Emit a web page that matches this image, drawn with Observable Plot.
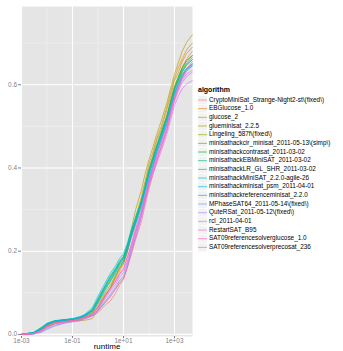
<!DOCTYPE html>
<html>
<head>
<meta charset="utf-8">
<script src="https://cdn.jsdelivr.net/npm/d3@7"></script>
<script src="https://cdn.jsdelivr.net/npm/@observablehq/plot@0.6"></script>
<style>
  html, body { margin: 0; padding: 0; background: #fff; }
  #wrap { position: relative; width: 343px; height: 351px; overflow: hidden; background: #fff; }
  #chart { position: absolute; left: 0; top: 0; }
  #legend { position: absolute; left: 190px; top: 0; }
</style>
</head>
<body>
<div id="wrap"><div id="chart"></div><div id="legend"></div></div>
<script>
const algorithms = [
  "CryptoMiniSat_Strange-Night2-st\\(fixed\\)",
  "EBGlucose_1.0",
  "glucose_2",
  "glueminisat_2.2.5",
  "Lingeling_587f\\(fixed\\)",
  "minisathackcir_minisat_2011-05-13\\(simp\\)",
  "minisathackcontrasat_2011-03-02",
  "minisathackEBMiniSAT_2011-03-02",
  "minisathackLR_GL_SHR_2011-03-02",
  "minisathackMiniSAT_2.2.0-agile-26",
  "minisathackminisat_psm_2011-04-01",
  "minisathackreferenceminisat_2.2.0",
  "MPhaseSAT64_2011-05-14\\(fixed\\)",
  "QuteRSat_2011-05-12\\(fixed\\)",
  "rcl_2011-04-01",
  "RestartSAT_B95",
  "SAT09referencesolverglucose_1.0",
  "SAT09referencesolverprecosat_236"
];

// runtime checkpoints (seconds)
const runtimes = [0.001, 0.003, 0.006, 0.01, 0.02, 0.05, 0.1, 0.2, 0.3, 0.6,
  1, 2, 3, 5, 7, 10, 14, 20, 30, 50,
  70, 100, 140, 200, 300, 500, 700, 1000, 1400, 2000,
  3000, 5000];

// fraction of instances solved at each checkpoint, one row per algorithm
const fractionSolved = [
  [0, .002, .010, .020, .028, .032, .034, .036, .040, .046, .052, .072, .080, .100, .118, .132, .160, .198, .232, .285, .318, .365, .398, .440, .470, .518, .548, .588, .612, .642, .662, .680],
  [0, .003, .012, .022, .030, .033, .035, .038, .042, .050, .068, .098, .110, .136, .152, .168, .196, .236, .270, .322, .352, .400, .428, .466, .492, .540, .570, .610, .628, .655, .675, .690],
  [0, .003, .011, .021, .029, .032, .034, .036, .040, .048, .064, .096, .112, .140, .158, .172, .200, .242, .282, .330, .368, .410, .436, .470, .500, .546, .580, .615, .640, .662, .684, .700],
  [0, .002, .009, .018, .026, .030, .032, .033, .034, .038, .058, .094, .110, .142, .160, .176, .210, .252, .300, .346, .385, .420, .448, .480, .512, .556, .590, .625, .652, .680, .702, .720],
  [0, .003, .012, .022, .030, .033, .035, .039, .043, .052, .072, .102, .118, .142, .158, .172, .198, .232, .268, .310, .350, .390, .418, .450, .482, .525, .558, .595, .618, .640, .658, .670],
  [0, .004, .014, .024, .031, .034, .036, .040, .045, .056, .080, .114, .132, .155, .170, .183, .208, .240, .272, .315, .350, .390, .420, .450, .480, .520, .555, .590, .612, .635, .652, .665],
  [0, .004, .015, .025, .032, .035, .037, .041, .046, .058, .083, .118, .136, .157, .172, .186, .212, .246, .280, .320, .360, .396, .424, .455, .486, .525, .560, .595, .618, .640, .658, .670],
  [0, .004, .014, .025, .032, .035, .037, .040, .045, .056, .078, .112, .128, .152, .168, .180, .206, .238, .270, .312, .348, .385, .414, .445, .476, .515, .550, .585, .608, .630, .648, .660],
  [0, .005, .016, .026, .033, .035, .037, .042, .047, .060, .086, .120, .140, .160, .176, .188, .212, .245, .278, .318, .352, .390, .420, .450, .480, .520, .552, .588, .610, .632, .648, .660],
  [0, .005, .017, .027, .033, .036, .038, .043, .048, .064, .092, .126, .146, .166, .182, .194, .218, .250, .282, .320, .352, .390, .418, .448, .478, .515, .546, .580, .602, .625, .640, .650],
  [0, .004, .015, .025, .032, .035, .037, .041, .046, .059, .084, .118, .138, .158, .174, .186, .210, .242, .272, .312, .346, .382, .410, .440, .472, .510, .542, .578, .600, .622, .638, .648],
  [0, .003, .013, .023, .031, .034, .036, .040, .044, .054, .076, .108, .126, .148, .164, .176, .200, .232, .264, .302, .338, .375, .404, .435, .468, .505, .538, .575, .598, .620, .636, .645],
  [0, .001, .006, .014, .022, .028, .031, .034, .038, .045, .058, .082, .096, .115, .130, .140, .168, .205, .245, .290, .330, .370, .400, .430, .462, .505, .540, .575, .600, .620, .638, .650],
  [0, .001, .005, .012, .020, .027, .030, .033, .037, .044, .056, .078, .092, .110, .124, .135, .160, .195, .236, .280, .320, .360, .390, .420, .452, .495, .530, .565, .590, .610, .626, .635],
  [0, .002, .008, .017, .025, .030, .033, .036, .040, .047, .062, .088, .104, .122, .138, .148, .174, .205, .244, .285, .320, .355, .384, .410, .440, .480, .515, .550, .572, .590, .602, .610],
  [0, .002, .009, .018, .026, .031, .033, .037, .041, .048, .064, .092, .108, .128, .144, .155, .182, .212, .250, .290, .328, .362, .392, .420, .450, .490, .525, .560, .585, .605, .620, .630],
  [0, .002, .010, .019, .027, .031, .033, .037, .041, .049, .066, .094, .110, .130, .146, .158, .185, .215, .255, .295, .332, .368, .398, .428, .460, .500, .535, .570, .595, .615, .632, .645],
  [0, .002, .009, .018, .026, .030, .032, .035, .039, .045, .057, .078, .090, .110, .124, .135, .160, .190, .228, .270, .310, .350, .382, .415, .448, .490, .528, .565, .590, .615, .638, .655]
];

const xMajorTicks = [0.001, 0.1, 10, 1000];
const xTickLabels = ["1e-03", "1e-01", "1e+01", "1e+03"];
const xMinorTicks = [0.01, 1, 100];
const yMajorTicks = [0, 0.2, 0.4, 0.6];
const yTickLabels = ["0.0", "0.2", "0.4", "0.6"];
const yMinorTicks = [0.1, 0.3, 0.5, 0.7];
const legendTitle = "algorithm";
const xTitle = "runtime";

// R's hcl() (polar LUV) -> hex, as used by ggplot2's default hue palette
function hclR(h, c, l) {
  const WX = 95.047, WY = 100.0, WZ = 108.883;
  const den = WX + 15 * WY + 3 * WZ;
  const un = 4 * WX / den, vn = 9 * WY / den;
  const hr = h * Math.PI / 180;
  const U = c * Math.cos(hr), V = c * Math.sin(hr);
  const Y = WY * (l > 7.999592 ? Math.pow((l + 16) / 116, 3) : l / 903.3);
  const u = U / (13 * l) + un, v = V / (13 * l) + vn;
  const X = 9 * Y * u / (4 * v);
  const Z = -X / 3 - 5 * Y + 3 * Y / v;
  const x = X / 100, y = Y / 100, z = Z / 100;
  const lin = [
    3.240479 * x - 1.537150 * y - 0.498535 * z,
    -0.969256 * x + 1.875992 * y + 0.041556 * z,
    0.055648 * x - 0.204043 * y + 1.057311 * z
  ];
  const g = t => t <= 0.0031308 ? 12.92 * t : 1.055 * Math.pow(t, 1 / 2.4) - 0.055;
  const rgb = lin.map(t => Math.round(255 * Math.max(0, Math.min(1, g(t)))));
  return d3.rgb(rgb[0], rgb[1], rgb[2]).formatHex();
}
const n = algorithms.length;
const colors = algorithms.map((_, i) => hclR(15 + 360 * i / n, 100, 65));

const data = algorithms.flatMap((a, i) =>
  runtimes.map((t, j) => ({algorithm: a, runtime: t, solved: fractionSolved[i][j]})));

const font = "'Liberation Sans', Arial, Helvetica, sans-serif";
const grey50 = "#7F7F7F";

const chart = Plot.plot({
  width: 194,
  height: 351,
  marginLeft: 21,
  marginRight: 2,
  marginTop: 6,
  marginBottom: 15,
  style: {fontFamily: font, fontSize: "6.4px", background: "transparent", overflow: "visible"},
  x: {type: "log", domain: [0.001, 5100]},
  y: {domain: [-0.005, 0.788]},
  color: {domain: algorithms, range: colors},
  marks: [
    Plot.frame({fill: "#E5E5E5", stroke: null}),
    Plot.ruleX(xMinorTicks, {stroke: "#F2F2F2", strokeWidth: 0.6}),
    Plot.ruleY(yMinorTicks, {stroke: "#F2F2F2", strokeWidth: 0.6}),
    Plot.ruleX(xMajorTicks, {stroke: "#FFFFFF", strokeWidth: 1.1}),
    Plot.ruleY(yMajorTicks, {stroke: "#FFFFFF", strokeWidth: 1.1}),
    Plot.line(data, {x: "runtime", y: "solved", z: "algorithm", stroke: "algorithm",
      strokeWidth: 0.8, strokeOpacity: 0.85}),
    Plot.axisX(xMajorTicks, {tickSize: 2, tickPadding: -0.5, stroke: grey50, fill: grey50,
      tickFormat: d => xTickLabels[xMajorTicks.indexOf(d)], label: null}),
    Plot.axisY(yMajorTicks, {tickSize: 3, tickPadding: 1.5, stroke: grey50, fill: grey50,
      tickFormat: d => yTickLabels[yMajorTicks.indexOf(d)], label: null}),
    Plot.text([xTitle], {frameAnchor: "bottom", dy: 12.5, fontSize: 8, fill: "#000"})
  ]
});
document.getElementById("chart").appendChild(chart);

// legend
const lg = d3.create("svg").attr("width", 153).attr("height", 351)
  .style("font-family", font);
lg.append("text").attr("x", 8).attr("y", 90.5).attr("dominant-baseline", "middle")
  .attr("font-size", 7).attr("font-weight", "bold").attr("fill", "#000").text(legendTitle);
algorithms.forEach((a, i) => {
  const cy = 100 + 8.67 * i;
  lg.append("rect").attr("x", 8).attr("y", cy - 4.33).attr("width", 9).attr("height", 8.67)
    .attr("fill", "#F2F2F2").attr("stroke", "#fff").attr("stroke-width", 0.5);
  lg.append("line").attr("x1", 8).attr("x2", 17).attr("y1", cy).attr("y2", cy)
    .attr("stroke", colors[i]).attr("stroke-width", 0.8).attr("stroke-opacity", 0.85);
  lg.append("text").attr("x", 19).attr("y", cy).attr("dominant-baseline", "middle")
    .attr("font-size", 6.4).attr("fill", "#000").text(a);
});
document.getElementById("legend").appendChild(lg.node());
</script>
</body>
</html>
